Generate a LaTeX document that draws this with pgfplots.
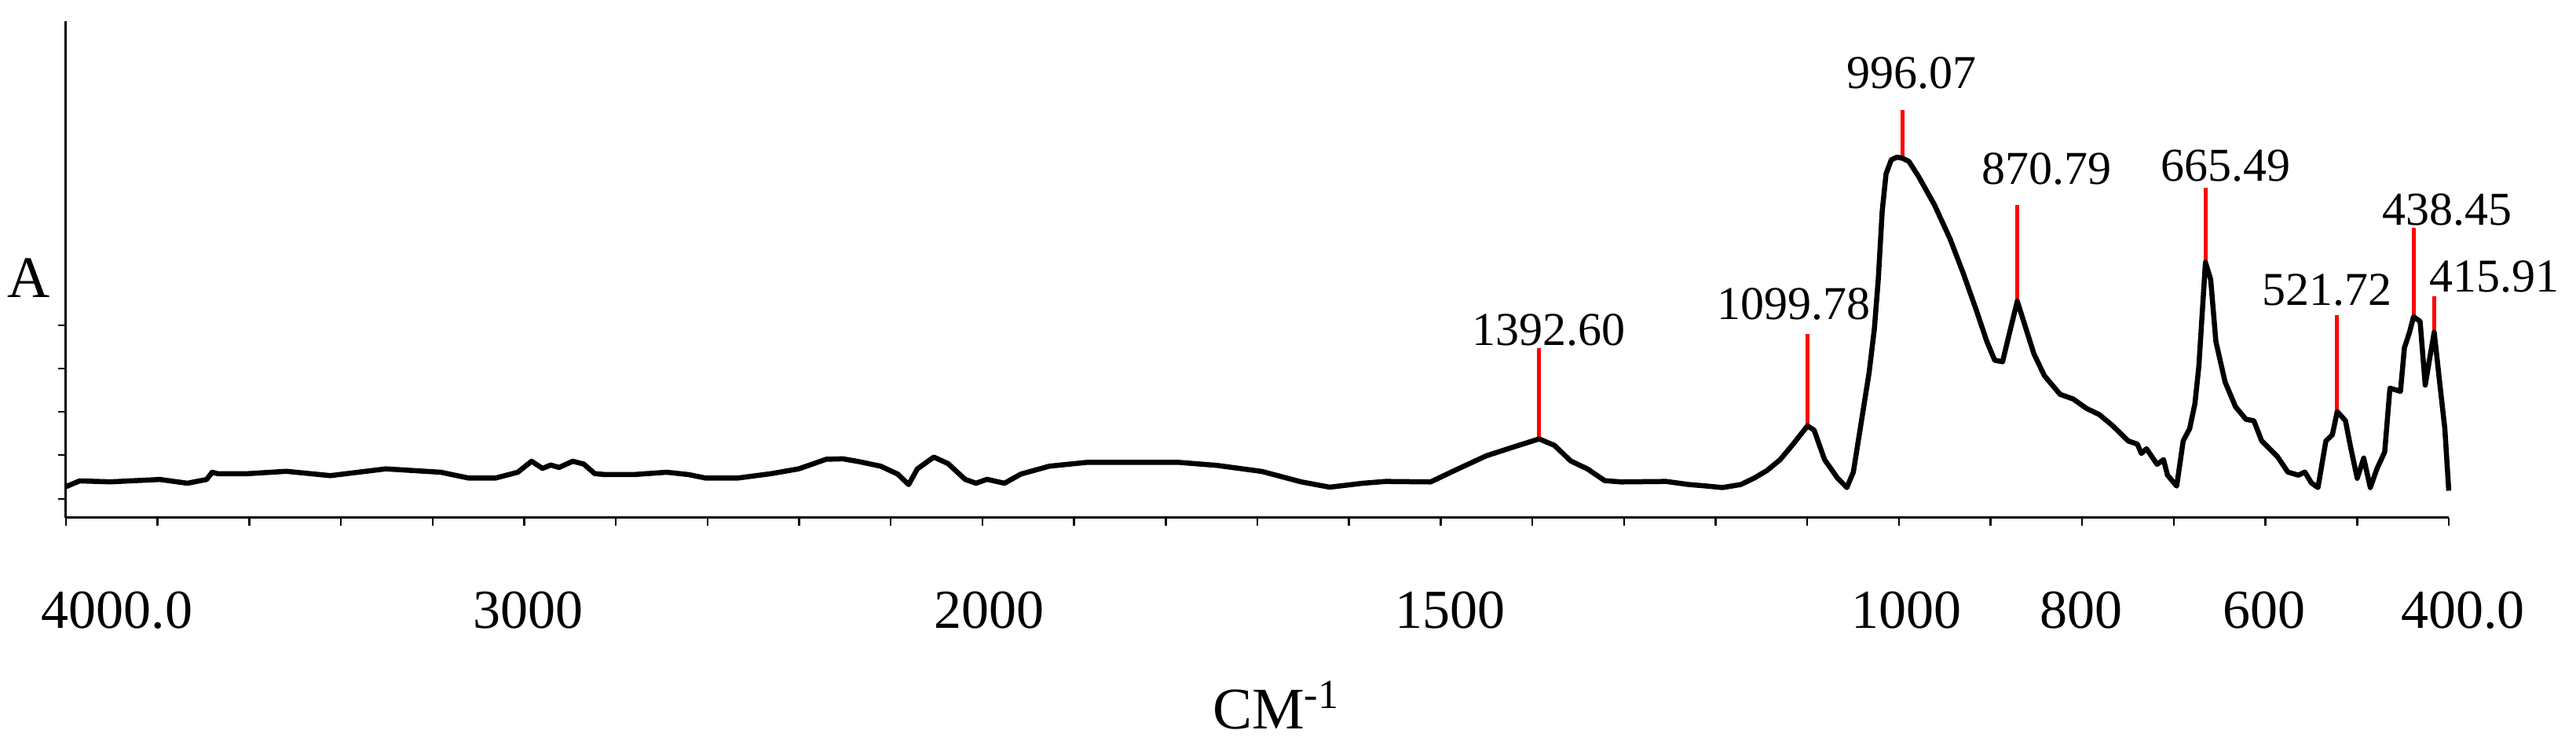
\documentclass[border=0pt]{standalone}
\usepackage{fontspec}
\setmainfont{Liberation Serif}
\usepackage{pgfplots}
\usepackage{pgfplotstable}
\pgfplotsset{compat=1.18}
% wavenumber -> position along the axis (4000-2000 at half the scale of 2000-400)
\pgfmathdeclarefunction{wnu}{1}{\pgfmathparse{(#1>=2000)*(4000-#1)/200+(#1<2000)*(10+(2000-#1)/100)}}

\pgfplotstableread{
wn a
4000 39.7
3970 47
3903 45.8
3795 48.8
3735 44
3693 48.8
3681 58
3669 56.2
3603 56.2
3519 59.2
3423 53.7
3302 62.3
3182 58
3122 50.7
3062 50.7
3014 58
2984 72
2960 62.9
2942 67.2
2924 64.1
2894 72
2870 68.4
2846 56.2
2822 55
2762 55
2689 58
2641 55
2605 50.7
2533 50.7
2461 56.2
2401 62.3
2341 74.5
2305 75.1
2271 71.7
2222 65.7
2185 55.7
2161 42.3
2142 62.3
2106 77.3
2075 69
2038 49
2014 44
1995 49
1976 44
1958 55.7
1927 65.7
1885 70.7
1787 70.7
1744 66.7
1695 59
1652 45.7
1621 39
1585 44
1560 46.3
1511 45.7
1481 62.3
1450 79
1419 90.7
1392.6 100.4
1376 92.3
1358 72.3
1340 62.3
1321 47.3
1303 45.7
1254 46.3
1229.6 42.4
1212 40.7
1192.6 38.5
1172.5 42.4
1158.3 50.3
1143.9 60.2
1129.6 74
1115.4 93.8
1099.78 117
1092.5 111.6
1081.1 74
1066.8 50.3
1056.8 38.5
1049.7 58.2
1041.1 121.5
1032.5 184.8
1026.8 240.1
1022.5 303.4
1018.2 390.4
1014 437.8
1008.3 455.6
1002 459
996.07 457.6
989.1 453.6
978.3 433.9
961.2 398.3
944.1 354.8
929.8 311.3
915.4 263.8
904 224.3
895.5 200.6
886.9 198.6
878.3 240.1
870.79 275.7
861.2 240.1
852.6 208.5
841.2 180.8
824.1 157.1
809.8 151.2
795.4 139.3
781.3 131.4
767 117.5
749.8 97.8
739.8 93.8
735.5 81.9
729.8 87.9
718.3 68.1
711.2 74
706.9 54.3
696.9 40.4
689.8 97.8
682.7 113.6
677 145.2
672.7 192.7
668.4 271.8
665.49 325.1
659.8 303.4
654.1 224.3
644.1 172.9
632.7 141.3
621.3 125.4
612.7 123.5
604.1 97.8
587 78
575.6 58.2
564.1 54.3
557 58.2
549.9 44.4
542.7 38.5
534.1 97.8
527 105.7
521.72 135.3
512.7 123.5
507.1 89.9
499.9 50.3
492.8 76
485.6 38.5
478.4 62.3
469.9 83.9
464.2 165
452.7 161
448.4 216.4
442.8 236.2
438.45 255.9
431.3 250
425.7 168.9
420 208.5
415.91 236.2
410 172.9
404.3 113.6
400 34.5
}\spectrum

\pgfplotstableread{
wn a
1392.60 100.4
1392.60 216.4
1392.60 nan
1099.78 117
1099.78 234.2
1099.78 nan
996.07 457.6
996.07 518.6
996.07 nan
870.79 275.7
870.79 398.3
870.79 nan
665.49 325.1
665.49 420
665.49 nan
521.72 135.3
521.72 258
521.72 nan
438.45 255.9
438.45 368.6
438.45 nan
415.91 236.2
415.91 281.6
}\peaks

\begin{document}
\begin{tikzpicture}
\begin{axis}[
  scale only axis,
  width=606.8pt, height=126.3pt,
  xmin=0, xmax=26, ymin=0, ymax=631.5,
  axis x line*=bottom, axis y line*=left,
  axis line style={line width=0.6pt, -},
  xtick={0,...,26}, xticklabels={},
  ytick={24,80,135,190,245}, yticklabels={},
  tick align=outside, major tick length=2pt,
  tick style={line width=0.5pt, black},
  clip=false,
  unbounded coords=jump,
]
\addplot[red, line width=1pt] table[x expr={wnu(\thisrow{wn})}, y=a] {\peaks};
\addplot[black, line width=1.3pt, line join=round] table[x expr={wnu(\thisrow{wn})}, y=a] {\spectrum};

% peak labels
\begin{scope}[every node/.style={font=\fontsize{12}{14}\selectfont, anchor=base, inner sep=0pt}]
\node at (axis cs:16.175,219.4) {1392.60};
\node at (axis cs:18.85,252) {1099.78};
\node at (axis cs:20.14,546) {996.07};
\node at (axis cs:21.61,424) {870.79};
\node at (axis cs:23.57,428) {665.49};
\node at (axis cs:24.67,270) {521.72};
\node at (axis cs:25.98,372) {438.45};
\node at (axis cs:26.50,287) {415.91};
\end{scope}

% tick labels
\begin{scope}[every node/.style={font=\fontsize{14}{16}\selectfont, anchor=base, inner sep=0pt, yshift=-28.2pt}]
\node at (axis cs:0.557,0) {4000.0};
\node at (axis cs:5.047,0) {3000};
\node at (axis cs:10.077,0) {2000};
\node at (axis cs:15.107,0) {1500};
\node at (axis cs:20.086,0) {1000};
\node at (axis cs:21.988,0) {800};
\node at (axis cs:23.985,0) {600};
\node at (axis cs:26.153,0) {400.0};
\end{scope}

% axis labels
\node[font=\fontsize{15}{17}\selectfont, anchor=base, inner sep=0pt, xshift=-9.4pt] at (axis cs:0,280.5) {A};
\node[font=\fontsize{15}{17}\selectfont, anchor=base, inner sep=0pt, yshift=-53.8pt] at (axis cs:13.21,0) {CM\textsuperscript{-1}};
\end{axis}
\pgfresetboundingbox
\path[use as bounding box] (-16.8pt,-59.6pt) rectangle (639.2pt,131.8pt);
\end{tikzpicture}
\end{document}
